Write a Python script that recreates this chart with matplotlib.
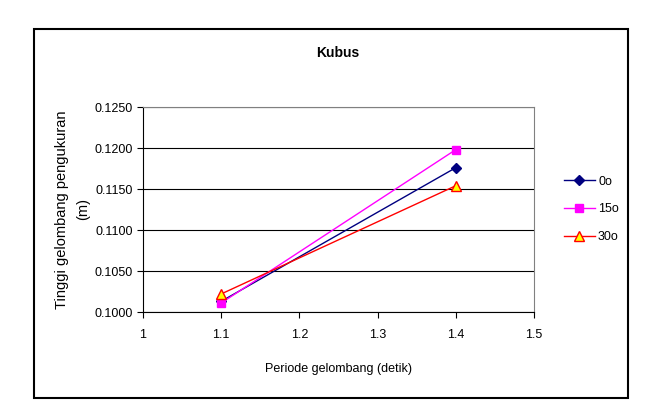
import matplotlib
matplotlib.use("Agg")
import matplotlib.pyplot as plt
from matplotlib.patches import Rectangle

plt.rcParams['font.family'] = ['Liberation Sans', 'DejaVu Sans']

periods = [1.1, 1.4]
series_names = ["0o", "15o", "30o"]
h_0 = [0.1013, 0.1176]
h_15 = [0.1011, 0.1198]
h_30 = [0.1022, 0.1154]
x_ticks = [1, 1.1, 1.2, 1.3, 1.4, 1.5]
y_ticks = [0.1000, 0.1050, 0.1100, 0.1150, 0.1200, 0.1250]

fig = plt.figure(figsize=(6.58, 4.15), dpi=100)
fig.patches.append(Rectangle((34/658, 1-398/415), (628-34)/658, (398-29)/415,
                             transform=fig.transFigure, fill=False,
                             edgecolor='black', linewidth=1.5))

ax = fig.add_axes([143/658, 1-312/415, (534-143)/658, (312-107)/415])
ax.set_xlim(1, 1.5)
ax.set_ylim(0.1, 0.125)
ax.set_xticks(x_ticks)
ax.set_xticklabels([f"{t:g}" for t in x_ticks])
ax.set_yticks(y_ticks)
ax.set_yticklabels([f"{t:.4f}" for t in y_ticks])
ax.tick_params(labelsize=9, direction='out', length=4, width=0.8, colors='black')
ax.tick_params(axis='x', pad=8)
ax.grid(axis='y', color='black', linewidth=0.8)
ax.set_axisbelow(True)
for s in ['top', 'right']:
    ax.spines[s].set_color('#808080')
for s in ['left', 'bottom']:
    ax.spines[s].set_color('black')

ax.plot(periods, h_0, color='#000080', marker='D', markersize=5, lw=1, label=series_names[0])
ax.plot(periods, h_15, color='#FF00FF', marker='s', markersize=6, lw=1, label=series_names[1])
ax.plot(periods, h_30, color='#FF0000', marker='^', markersize=7, lw=1,
        markerfacecolor='#FFFF00', markeredgecolor='#FF0000', label=series_names[2])

fig.text(338/658, 1-53/415, "Kubus", fontsize=10, fontweight='bold', ha='center', va='center')
ax.set_xlabel("Periode gelombang (detik)", fontsize=9, labelpad=16)
ax.set_ylabel("Tinggi gelombang pengukuran\n(m)", fontsize=10.5, labelpad=3, linespacing=1.65)

leg = ax.legend(loc='center left', bbox_to_anchor=(1.047, 0.50), frameon=False,
                fontsize=9, handlelength=2.5, labelspacing=1.25, handletextpad=0.25)

fig.savefig("out.png", dpi=100)
